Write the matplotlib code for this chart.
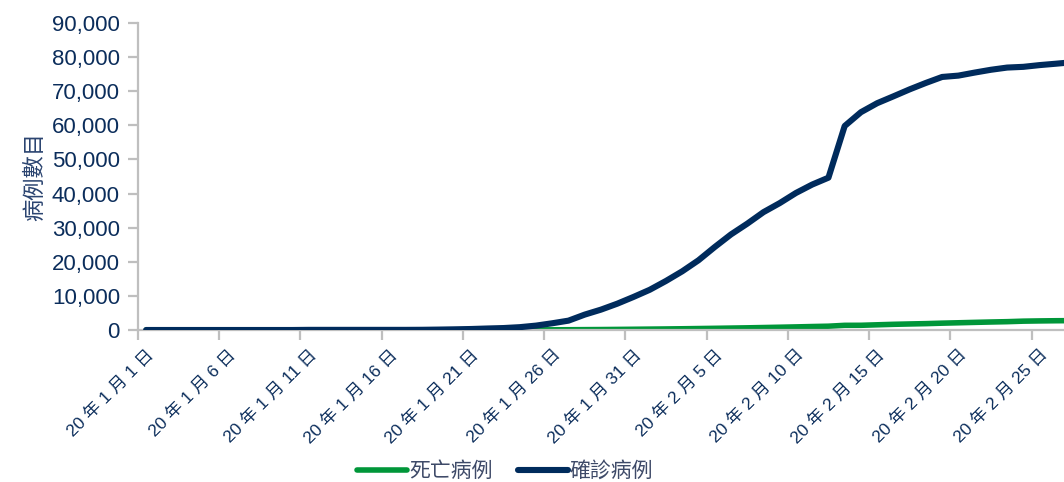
import matplotlib
matplotlib.use("Agg")
import matplotlib.pyplot as plt
from matplotlib.ticker import FuncFormatter, FixedLocator
import numpy as np

# ---- data ----
months = [1] * 31 + [2] * 27
mdays = list(range(1, 32)) + list(range(1, 28))
confirmed = [0, 0, 0, 0, 0, 0, 0, 0, 0, 0,
             41, 41, 41, 41, 41, 41, 41, 62, 121, 198,
             291, 440, 571, 830, 1287, 1975, 2744, 4515, 5974, 7711,
             9692, 11791, 14380, 17205, 20438, 24324, 28018, 31161, 34546, 37198,
             40171, 42638, 44653, 59804, 63851, 66492, 68500, 70548, 72436, 74185,
             74576, 75465, 76288, 76936, 77150, 77658, 78064, 78497]
deaths = [0, 0, 0, 0, 0, 0, 0, 0, 0, 1,
          1, 1, 1, 1, 1, 2, 2, 3, 3, 4,
          6, 9, 17, 25, 41, 56, 80, 106, 132, 170,
          213, 259, 304, 361, 425, 490, 563, 636, 722, 811,
          908, 1016, 1113, 1367, 1380, 1523, 1665, 1770, 1868, 2004,
          2118, 2236, 2345, 2442, 2592, 2663, 2715, 2744]
visible_days = 57
tick_every = 5
y_ticks = list(range(0, 90001, 10000))
series_names = ["死亡病例", "確診病例"]

# ---- style ----
navy = "#002B5C"
green = "#009639"
text_col = "#0B2D5B"
legend_col = "#3E4A68"
grid_gray = "#BFBFBF"

plt.rcParams['font.family'] = ['Liberation Sans', 'Noto Sans CJK TC']

fig = plt.figure(figsize=(10.64, 4.82), dpi=100)
ax = fig.add_axes([138/1064, 1-330/482, 1-138/1064, (330-23)/482])

x = np.arange(len(confirmed))
ax.plot(x, deaths, color=green, lw=4.0, solid_capstyle='round', label=series_names[0], zorder=2)
ax.plot(x, confirmed, color=navy, lw=4.4, solid_capstyle='round', label=series_names[1], zorder=3)

ax.set_xlim(-0.5, visible_days - 0.5)
ax.set_ylim(0, 90000)
ax.set_yticks(y_ticks)
ax.yaxis.set_major_formatter(FuncFormatter(lambda v, p: f"{int(v):,}"))

# category axis: tick marks between categories, labels every 5 categories
lab_idx = list(range(0, visible_days, tick_every))
ax.xaxis.set_major_locator(FixedLocator([i - 0.5 for i in lab_idx]))
ax.xaxis.set_minor_locator(FixedLocator(lab_idx))
ax.set_xticklabels([""] * len(lab_idx))
ax.set_xticklabels([f"20 年 {months[i]} 月 {mdays[i]} 日" for i in lab_idx], minor=True)
ax.tick_params(axis='x', which='minor', length=0, pad=12)
ax.tick_params(axis='x', which='major', length=7, width=1.6, color=grid_gray)
for lbl in ax.get_xticklabels(minor=True):
    lbl.set_rotation(45)
    lbl.set_ha('right')
    lbl.set_va('top')
    lbl.set_rotation_mode('anchor')
    lbl.set_fontsize(12.5)
    lbl.set_color(text_col)

ax.tick_params(axis='y', length=7, width=1.6, color=grid_gray, labelsize=16,
               labelcolor=text_col, pad=6)

for s in ['top', 'right']:
    ax.spines[s].set_visible(False)
for s in ['left', 'bottom']:
    ax.spines[s].set_color(grid_gray)
    ax.spines[s].set_linewidth(1.6)

ax.set_ylabel("病例數目", fontsize=16, color="#2B4470", labelpad=4,
              family=['Noto Sans CJK TC'])

leg = fig.legend(loc='center', bbox_to_anchor=(505/1064, 1-471/482), ncol=2,
                 frameon=False, fontsize=15, handlelength=2.4, handletextpad=0.1,
                 columnspacing=1.2)
for t in leg.get_texts():
    t.set_color(legend_col)
    t.set_family(['Noto Sans CJK TC'])

fig.savefig("out.png", dpi=100)
